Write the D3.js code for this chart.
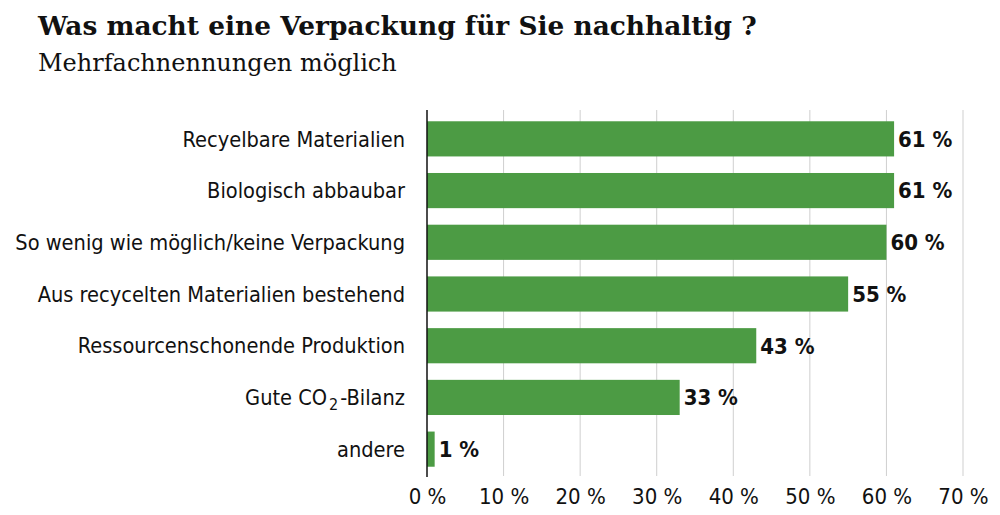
<!DOCTYPE html>
<html><head><meta charset="utf-8">
<script src="https://cdn.jsdelivr.net/npm/d3@7"></script>
<style>body{margin:0;background:#fff}svg{display:block}</style>
</head><body>
<svg id="c" width="1000" height="515"></svg>
<script>
const categories = ["Recyelbare Materialien","Biologisch abbaubar","So wenig wie möglich/keine Verpackung","Aus recycelten Materialien bestehend","Ressourcenschonende Produktion","Gute CO2-Bilanz","andere"];
const values = [61,61,60,55,43,33,1];
const tickValues = [0,10,20,30,40,50,60,70];
const title = "Was macht eine Verpackung für Sie nachhaltig ?";
const subtitle = "Mehrfachnennungen möglich";

const svg = d3.select("#c");
const x = d3.scaleLinear().domain([0,70]).range([427,963]);
const y = d3.scaleBand().domain(categories).range([113,475]).paddingInner(0.32).paddingOuter(0.16);
const labelFont = "'DejaVu Sans Condensed','Liberation Sans Narrow',sans-serif";

svg.append("text").attr("x",38).attr("y",35).attr("font-family","'DejaVu Serif',serif").attr("font-weight","bold")
  .attr("font-size",26.4).attr("fill","#111").text(title);
svg.append("text").attr("x",38).attr("y",71).attr("font-family","'DejaVu Serif',serif")
  .attr("font-size",24).attr("fill","#111").text(subtitle);

// grid
svg.append("g").selectAll("line").data(tickValues.slice(1)).join("line")
  .attr("x1",d=>x(d)).attr("x2",d=>x(d)).attr("y1",110).attr("y2",476)
  .attr("stroke","#cfcfcf").attr("stroke-width",1);

// bars
svg.append("g").selectAll("rect").data(values).join("rect")
  .attr("x",x(0)).attr("y",(d,i)=>y(categories[i])).attr("width",d=>x(d)-x(0)).attr("height",y.bandwidth())
  .attr("fill","#4c9b44");

// axis line
svg.append("line").attr("x1",x(0)).attr("x2",x(0)).attr("y1",110).attr("y2",477).attr("stroke","#111").attr("stroke-width",1.5);

// tick labels
const xAxis = d3.axisBottom(x).tickValues(tickValues).tickFormat(d=>d+" %").tickSize(0).tickPadding(0);
const ax = svg.append("g").attr("transform","translate(0,504)").call(xAxis);
ax.select(".domain").remove();
ax.selectAll("text").attr("font-family",labelFont).attr("font-size",22).attr("fill","#111").attr("dy","0");

// category labels
const cl = svg.append("g").selectAll("text").data(categories).join("text")
  .attr("x",405).attr("y",d=>y(d)+y.bandwidth()/2).attr("dy","0.36em").attr("text-anchor","end")
  .attr("font-family",labelFont).attr("font-size",21.6).attr("fill","#111");
cl.each(function(d){
  const t = d3.select(this);
  if(d.includes("CO2")){
    const [a,b] = d.split("CO2");
    t.append("tspan").text(a+"CO");
    t.append("tspan").attr("font-size",16).attr("dy","0.3em").attr("dx",2).text("2");
    t.append("tspan").attr("dy","-0.22em").attr("dx",2).text(b);
  } else t.text(d);
});

// value labels
svg.append("g").selectAll("text").data(values).join("text")
  .attr("x",d=>x(d)+4).attr("y",(d,i)=>y(categories[i])+y.bandwidth()/2).attr("dy","0.36em")
  .attr("font-family",labelFont).attr("font-weight","bold").attr("font-size",22).attr("fill","#111")
  .text(d=>d+" %");
</script>
</body></html>
